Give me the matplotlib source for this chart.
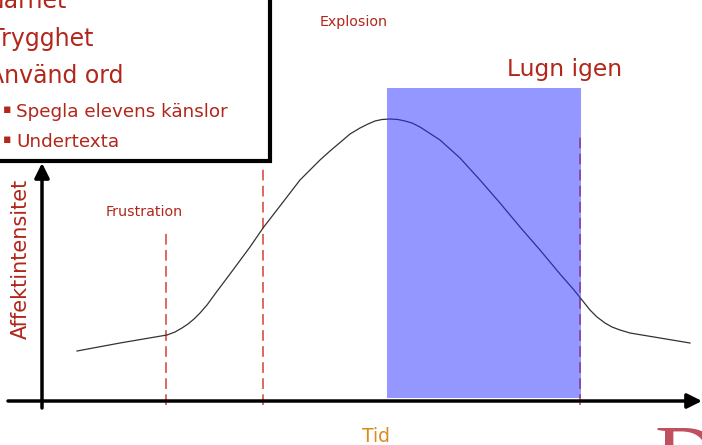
import matplotlib
matplotlib.use('Agg')
import matplotlib.pyplot as plt
from matplotlib.patches import Rectangle

# affect curve (time from origin, intensity above the time axis)
tid = [35, 78, 125, 133, 140, 146, 152, 158, 165, 173, 188, 208, 221, 238, 258, 268,
       278, 288, 301, 308, 318, 326, 333, 340, 348, 356, 363, 370, 378, 398, 418, 438,
       458, 478, 498, 518, 532, 540, 548, 555, 563, 570, 578, 588, 618, 648]
affekt = [50, 58, 66, 69, 73, 77, 82, 88, 96, 107, 127, 154, 173, 195, 221, 231,
          241, 250, 261, 267, 273, 277, 280, 281.5, 282, 281.5, 280, 278, 274, 261, 243, 221,
          198, 174, 151, 127, 111, 101, 91, 84, 78, 74, 71, 68, 63, 58]

# phase markers: (time, top of dashed line)
fas_tid = [124, 221, 538]
fas_topp = [168, 233, 266]
fas_namn = ['Frustration', 'Explosion']

# calm period (shaded)
lugn_start, lugn_slut, lugn_topp = 345, 539, 313

punkter = ['Närhet', 'Trygghet', 'Använd ord']
underpunkter = ['Spegla elevens känslor', 'Undertexta']

RED = '#b2261b'

fig = plt.figure(figsize=(7.02, 4.45), dpi=100)
ax = fig.add_axes([0, 0, 1, 1])
ax.set_xlim(-42, 660)
ax.set_ylim(-44, 401)
ax.axis('off')

# curve
ax.plot(tid, affekt, color='#333333', lw=0.9, zorder=3)

# dashed phase lines
for t, top in zip(fas_tid, fas_topp):
    ax.plot([t, t], [-4, top], color='#d2412f', lw=1.1, dashes=(7, 3.5), zorder=2)

# calm period box on top of curve
ax.add_patch(Rectangle((lugn_start, 3), lugn_slut - lugn_start, lugn_topp - 3,
                       facecolor=(0.16, 0.19, 1.0), alpha=0.5, edgecolor='none', zorder=4))

# axes with arrows
ax.annotate('', xy=(660, 0), xytext=(-34, 0),
            arrowprops=dict(arrowstyle='-|>', lw=2.5, color='black',
                            mutation_scale=22, shrinkA=0, shrinkB=0), zorder=5)
ax.annotate('', xy=(0, 238), xytext=(0, -7),
            arrowprops=dict(arrowstyle='-|>', lw=2.5, color='black',
                            mutation_scale=22, shrinkA=0, shrinkB=0), zorder=5)

# labels
ax.text(-21, 142, 'Affektintensitet', rotation=90, ha='center', va='center',
        color=RED, fontsize=15)
ax.text(320, -41, 'Tid', ha='left', va='baseline', color='#dd8a22', fontsize=13.5)
ax.text(64, 185, fas_namn[0], ha='left', va='baseline', color=RED, fontsize=10.3)
ax.text(278, 375, fas_namn[1], ha='left', va='baseline', color=RED, fontsize=10.3)
ax.text(465, 325, 'Lugn igen', ha='left', va='baseline', color=RED, fontsize=16.8)

# text box in upper left
ax.add_patch(Rectangle((-49, 242), 279, 165, facecolor='#d0d0d0', edgecolor='none',
                       zorder=6))
ax.add_patch(Rectangle((-52, 240), 280, 171, facecolor='white', edgecolor='black',
                       lw=3, zorder=7))
ax.text(25, 393, punkter[0], ha='right', va='baseline', color=RED, fontsize=17, zorder=8)
ax.text(52, 355, punkter[1], ha='right', va='baseline', color=RED, fontsize=17, zorder=8)
ax.text(81, 318, punkter[2], ha='right', va='baseline', color=RED, fontsize=17, zorder=8)
for i, s in enumerate(underpunkter):
    y = 284 - i * 30
    ax.text(-39, y + 4, '▪', ha='left', va='baseline', color=RED, fontsize=9, zorder=8)
    ax.text(-26, y, s, ha='left', va='baseline', color=RED, fontsize=13.2, zorder=8)

# clipped logo letter at the bottom right
ax.text(612, -85, 'D', ha='left', va='baseline', color='#c05060', fontsize=64,
        family='Liberation Serif')

fig.savefig('out.png', dpi=100)
